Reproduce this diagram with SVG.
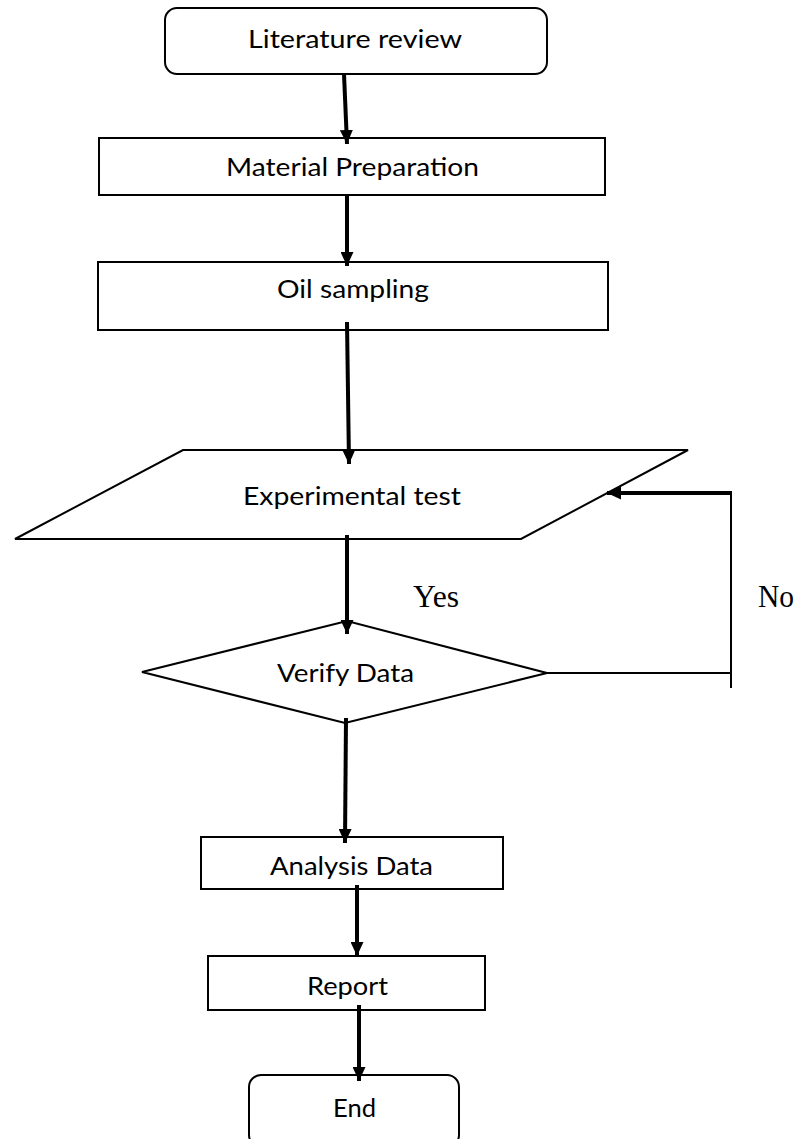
<svg xmlns="http://www.w3.org/2000/svg" width="801" height="1139" viewBox="0 0 801 1139">
<style>
.shape{fill:#fff;stroke:#000;stroke-width:2}
.lbl{font-family:Lato,"Open Sans","Liberation Sans",sans-serif;font-size:25px;fill:#000}
.yn{font-family:"Liberation Serif","Times New Roman",serif;font-size:32px;fill:#000}
.arr{stroke:#000;stroke-width:4;fill:none}
.thin{stroke:#000;stroke-width:2;fill:none}
</style>
<defs>
<marker id="ah" markerUnits="userSpaceOnUse" markerWidth="14" markerHeight="13" refX="14" refY="6.5" orient="auto">
<path d="M0,0 L14,6.5 L0,13 z" fill="#000"/>
</marker>
</defs>
<rect x="0" y="0" width="801" height="1139" fill="#fff"/>
<g id="literature-review">
<rect class="shape" x="165" y="8" width="382" height="66" rx="12"/>
<text class="lbl" x="248" y="48" textLength="214" lengthAdjust="spacingAndGlyphs">Literature review</text>
</g>
<g id="material-preparation">
<rect class="shape" x="99" y="138" width="506" height="57"/>
<text class="lbl" x="226" y="176" textLength="253" lengthAdjust="spacingAndGlyphs">Material Preparation</text>
</g>
<g id="oil-sampling">
<rect class="shape" x="98" y="262" width="510" height="68"/>
<text class="lbl" x="277" y="298" textLength="152" lengthAdjust="spacingAndGlyphs">Oil sampling</text>
</g>
<g id="experimental-test">
<polygon class="shape" points="183,450 688,450 521,539 15,539"/>
<text class="lbl" x="243" y="505" textLength="218" lengthAdjust="spacingAndGlyphs">Experimental test</text>
</g>
<g id="verify-data">
<polygon class="shape" points="142,672 347,621 547,673 345,723"/>
<text class="lbl" x="277" y="682" textLength="137" lengthAdjust="spacingAndGlyphs">Verify Data</text>
</g>
<g id="analysis-data">
<rect class="shape" x="201" y="837" width="302" height="52"/>
<text class="lbl" x="270" y="875" textLength="163" lengthAdjust="spacingAndGlyphs">Analysis Data</text>
</g>
<g id="report">
<rect class="shape" x="208" y="956" width="277" height="54"/>
<text class="lbl" x="307" y="995" textLength="81" lengthAdjust="spacingAndGlyphs">Report</text>
</g>
<g id="end">
<rect class="shape" x="249" y="1075" width="210" height="72" rx="12"/>
<text class="lbl" x="333" y="1117" textLength="43" lengthAdjust="spacingAndGlyphs">End</text>
</g>
<g id="connectors">
<line class="arr" x1="344" y1="74" x2="347" y2="144" marker-end="url(#ah)"/>
<line class="arr" x1="347" y1="195" x2="347" y2="266" marker-end="url(#ah)"/>
<line class="arr" x1="347" y1="322" x2="349" y2="464" marker-end="url(#ah)"/>
<line class="arr" x1="347" y1="535" x2="347" y2="634" marker-end="url(#ah)"/>
<line class="arr" x1="346" y1="718" x2="345" y2="843" marker-end="url(#ah)"/>
<line class="arr" x1="357" y1="885" x2="357" y2="956" marker-end="url(#ah)"/>
<line class="arr" x1="359" y1="1005" x2="359" y2="1081" marker-end="url(#ah)"/>
<line class="thin" x1="547" y1="673" x2="731" y2="673"/>
<line class="thin" x1="731" y1="688" x2="731" y2="493"/>
<line class="arr" x1="732" y1="493" x2="607" y2="493" marker-end="url(#ah)"/>
<text class="yn" x="413" y="607" textLength="46" lengthAdjust="spacingAndGlyphs">Yes</text>
<text class="yn" x="758" y="607" textLength="36" lengthAdjust="spacingAndGlyphs">No</text>
</g>
</svg>
